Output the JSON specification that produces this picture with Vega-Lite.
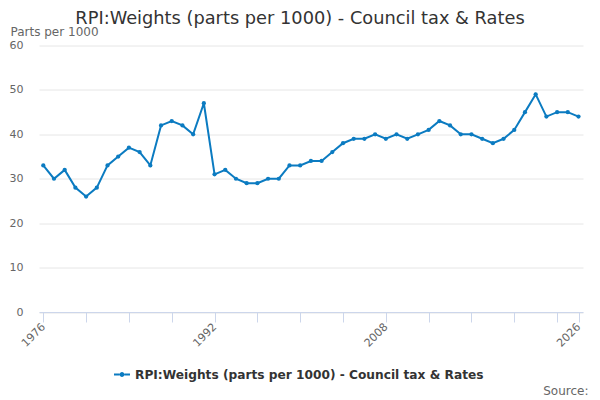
{
  "$schema": "https://vega.github.io/schema/vega-lite/v6.json",
  "width": 544,
  "height": 266.5,
  "autosize": "none",
  "padding": {"left": 39, "top": 45.5, "right": 17, "bottom": 88},
  "background": "white",
  "title": {
    "text": "RPI:Weights (parts per 1000) - Council tax & Rates",
    "font": "DejaVu Sans",
    "fontSize": 17.8,
    "fontWeight": "normal",
    "color": "#333333",
    "anchor": "middle",
    "dx": -11,
    "offset": -2
  },
  "config": {"view": {"stroke": null}},
  "data": {
    "values": [
      {"year": 1976, "value": 33}, {"year": 1977, "value": 30}, {"year": 1978, "value": 32},
      {"year": 1979, "value": 28}, {"year": 1980, "value": 26}, {"year": 1981, "value": 28},
      {"year": 1982, "value": 33}, {"year": 1983, "value": 35}, {"year": 1984, "value": 37},
      {"year": 1985, "value": 36}, {"year": 1986, "value": 33}, {"year": 1987, "value": 42},
      {"year": 1988, "value": 43}, {"year": 1989, "value": 42}, {"year": 1990, "value": 40},
      {"year": 1991, "value": 47}, {"year": 1992, "value": 31}, {"year": 1993, "value": 32},
      {"year": 1994, "value": 30}, {"year": 1995, "value": 29}, {"year": 1996, "value": 29},
      {"year": 1997, "value": 30}, {"year": 1998, "value": 30}, {"year": 1999, "value": 33},
      {"year": 2000, "value": 33}, {"year": 2001, "value": 34}, {"year": 2002, "value": 34},
      {"year": 2003, "value": 36}, {"year": 2004, "value": 38}, {"year": 2005, "value": 39},
      {"year": 2006, "value": 39}, {"year": 2007, "value": 40}, {"year": 2008, "value": 39},
      {"year": 2009, "value": 40}, {"year": 2010, "value": 39}, {"year": 2011, "value": 40},
      {"year": 2012, "value": 41}, {"year": 2013, "value": 43}, {"year": 2014, "value": 42},
      {"year": 2015, "value": 40}, {"year": 2016, "value": 40}, {"year": 2017, "value": 39},
      {"year": 2018, "value": 38}, {"year": 2019, "value": 39}, {"year": 2020, "value": 41},
      {"year": 2021, "value": 45}, {"year": 2022, "value": 49}, {"year": 2023, "value": 44},
      {"year": 2024, "value": 45}, {"year": 2025, "value": 45}, {"year": 2026, "value": 44}
    ]
  },
  "transform": [{"calculate": "'RPI:Weights (parts per 1000) - Council tax & Rates'", "as": "series"}],
  "mark": {"type": "line", "strokeWidth": 2, "point": {"filled": true, "size": 18}},
  "encoding": {
    "x": {
      "field": "year",
      "type": "quantitative",
      "scale": {"domain": [1975.6, 2026.42], "nice": false, "zero": false},
      "axis": {
        "values": [1976, 1980, 1984, 1988, 1992, 1996, 2000, 2004, 2008, 2012, 2016, 2020, 2024, 2026],
        "format": "d",
        "labelExpr": "(datum.value == 1976 || datum.value == 1992 || datum.value == 2008 || datum.value == 2026) ? datum.label : ''",
        "labelAngle": -45,
        "labelAlign": "right",
        "labelBaseline": "middle",
        "labelPadding": 3,
        "labelOverlap": false,
        "labelFlush": false,
        "labelFont": "DejaVu Sans",
        "labelFontSize": 11,
        "labelColor": "#666666",
        "grid": false,
        "domainColor": "#ccd6eb",
        "tickColor": "#ccd6eb",
        "tickSize": 10,
        "title": "Source:",
        "titleFont": "DejaVu Sans",
        "titleFontSize": 12,
        "titleFontWeight": "normal",
        "titleColor": "#666666",
        "titleAlign": "right",
        "titleAnchor": null,
        "titleBaseline": "alphabetic",
        "titleX": 549,
        "titleY": 82
      }
    },
    "y": {
      "field": "value",
      "type": "quantitative",
      "scale": {"domain": [0, 60], "nice": false},
      "axis": {
        "values": [0, 10, 20, 30, 40, 50, 60],
        "ticks": false,
        "domain": false,
        "gridColor": "#e6e6e6",
        "labelFont": "DejaVu Sans",
        "labelFontSize": 11,
        "labelColor": "#666666",
        "labelPadding": 16,
        "title": "Parts per 1000",
        "titleFont": "DejaVu Sans",
        "titleFontSize": 12,
        "titleFontWeight": "normal",
        "titleColor": "#666666",
        "titleAngle": 0,
        "titleAlign": "left",
        "titleAnchor": null,
        "titleBaseline": "alphabetic",
        "titleX": -29,
        "titleY": -10
      }
    },
    "color": {
      "field": "series",
      "type": "nominal",
      "scale": {"range": ["#0b7bc1"]},
      "legend": {
        "orient": "none",
        "legendX": 75,
        "legendY": 321,
        "title": null,
        "labelFont": "DejaVu Sans",
        "labelFontSize": 12.2,
        "labelFontWeight": "bold",
        "labelColor": "#333333",
        "labelLimit": 0,
        "labelOffset": 5,
        "symbolSize": 256,
        "symbolType": "M-1,-0.125H-0.3V0.125H-1Z M0.3,-0.125H1V0.125H0.3Z M-0.3,0A0.3,0.3 0 1,0 0.3,0A0.3,0.3 0 1,0 -0.3,0Z",
        "encode": {
          "symbols": {
            "update": {
              "fill": {"value": "#0b7bc1"},
              "stroke": {"value": "#0b7bc1"},
              "strokeWidth": {"value": 0},
              "shape": {"value": "M-1,-0.125H-0.3V0.125H-1Z M0.3,-0.125H1V0.125H0.3Z M-0.3,0A0.3,0.3 0 1,0 0.3,0A0.3,0.3 0 1,0 -0.3,0Z"}
            }
          }
        }
      }
    }
  }
}
